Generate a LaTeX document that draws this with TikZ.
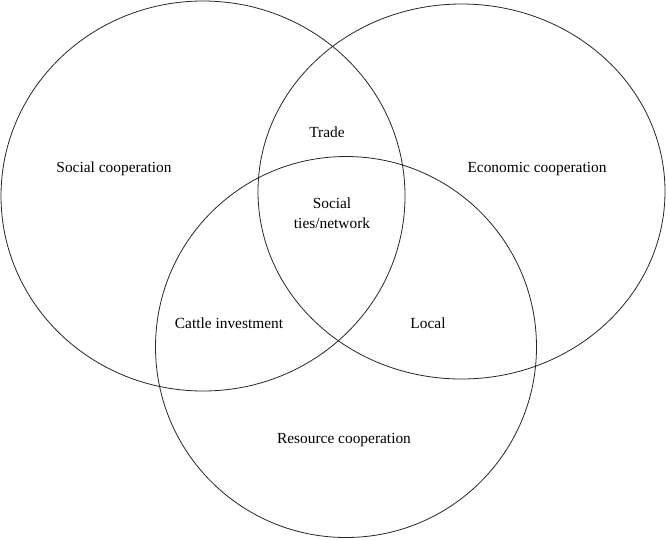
\documentclass[tikz,border=0pt]{standalone}
\usepackage{fontspec}
\setmainfont{Liberation Serif}
\begin{document}
\begin{tikzpicture}[x=1pt,y=-1pt,
  ring/.style={draw=black!85,line width=0.8pt},
  lbl/.style={font=\fontsize{15.4}{20}\selectfont,align=center,inner sep=0pt}]
\useasboundingbox (0,0) rectangle (666,539);
\draw[ring] (203,196) ellipse [x radius=202, y radius=195];
\draw[ring] (461.5,191.5) ellipse [x radius=203.5, y radius=187.5];
\draw[ring] (346,347) circle [radius=190.5];
\node[lbl] (soc) at (114,169) {Social cooperation};
\node[lbl] (eco) at (537,169) {Economic cooperation};
\node[lbl] (trade) at (327,132) {Trade};
\node[lbl] (ties) at (332,213) {Social\\ties/network};
\node[lbl] (cattle) at (229,323) {Cattle investment};
\node[lbl] (local) at (428,323) {Local};
\node[lbl] (res) at (344,440) {Resource cooperation};
\end{tikzpicture}
\end{document}
